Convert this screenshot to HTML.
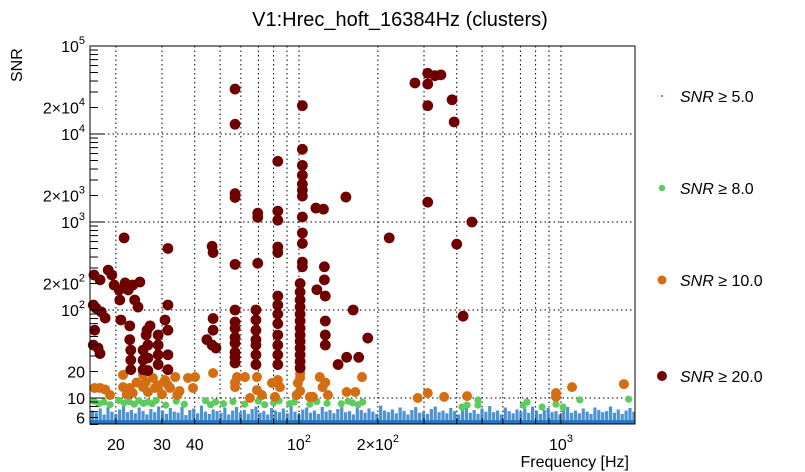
<!DOCTYPE html>
<html><head><meta charset="utf-8"><style>
html,body{margin:0;padding:0;background:#fff;}
svg{display:block;font-family:"Liberation Sans",sans-serif;}
</style></head><body>
<svg id="chart" width="805" height="472" viewBox="0 0 805 472">
<rect x="0" y="0" width="805" height="472" fill="#fff"/>
<text x="400" y="26" text-anchor="middle" font-size="20" fill="#000">V1:Hrec_hoft_16384Hz (clusters)</text>
<text transform="translate(22,82) rotate(-90)" font-size="16" fill="#000">SNR</text>
<text x="629" y="467" text-anchor="end" font-size="16" fill="#000">Frequency [Hz]</text>
<g id="grid"></g>
<g id="marks"></g>
<rect x="90" y="46" width="545" height="378" fill="none" stroke="#000" stroke-width="1"/>
<g id="axes"></g>
<g id="legend"></g>
</svg>
<script>
// ---- data ----
const redF = [57,57,103,277,310,330,348,310,310,384,391,103,57,57,103,103,103,103,83,69.6,69.6,83,83,103,103,103,103,116,124,151,310,457,221,400,46.6,69.6,57,83,83,103,103,125,31.6,21.5,47,423,
16.5,17.4,18.7,19.3,19.7,20.6,21.7,22.3,20.7,23.2,24.7,23.6,24.3,
16.4,16.8,17.6,18.2,16.6,16.4,17.1,17.4,
20.9,22.6,22.6,22.8,22.8,22.8,26.1,25.4,25.4,25.4,26.5,26.5,26.5,26.3,27.0,29.0,29.0,29.0,29.0,30.8,31.6,31.6,31.6,31.6,
44.5,46.6,48.2,47,47,
57,57,57,57,57,57,57,57,
68.5,68.5,68.5,68.5,68.5,68.5,68.5,
83,83,83,83,83,83,83,83,
101,101,101,101,101,101,101,101,101,101,101,101,101,
125,117,126,126,126,126,152,169,161,183,141];
const redS = [32400,12900,21000,38000,49000,46000,47000,37000,21000,24500,13700,6700,2100,1900,4400,3400,2700,2300,4900,1260,1130,1330,1050,1970,1140,750,570,1440,1400,1920,1680,1000,660,560,530,340,330,520,450,350,310,310,500,660,450,85,
250,220,284,250,192,169,203,169,130,192,208,130,108,
114,105,95,81,59,40,37,32,
77,66,46,35,27,21,52,35,27,21,40,28.5,20.5,59,66,52,40,31,24,77,59,114,31,21,
46,40,37,59,80,
100,73,62,49,42,33,29,25,
100,77,59,46,40,31,24,
144,114,90,70,52,40,31,24,
200,160,130,108,90,75,62,52,44,37,31,26,22,
220,170,144,75,52,40,29,29,100,48,24];
const orangeF = [16.6,17.4,19.0,21.3,21.3,22.6,23.2,25.4,25.4,26.5,27.7,28.2,30.8,32.2,33.7,34.3,37.7,40.1,39.4,47,58,57,62.2,65,69.1,69.1,72.2,78.9,84.6,81,99,98,110,113,120,123,129,152,164,174,284,310,358,438,957,957,1102,1738,
18.2,24,26,29,30,35,31.6,22,57,83,101,101,126,101];
const orangeS = [13.0,13.0,10.8,18.3,13.3,13.0,11.4,18.3,13.3,11.7,16.9,13.0,16.0,13.0,17.3,10.8,16.9,17.3,13.0,19.2,17.3,13.3,17.3,10,17.3,12.3,10.8,14.8,13.3,10.3,14.8,10.8,10.3,10.3,17.3,13.3,10.8,11.7,11.7,17.3,10,11.4,10.3,10.5,11.4,10.3,13.3,14.4,
12.5,15,15,14,11,12,14,11,15,16,12,17,15,19];
const greenF = [16.5,17.2,18,19,20.5,21.5,22.5,23.5,24.5,25.5,26.5,27.5,28.5,31,34,36.5,44,46,48,51.5,56,62,70,74,80,84,92,96,110,117,128,145,154,160,168,175,419,438,482,482,718,742,847,957,1018,1180,1812];
const greenS = [9.2,8.6,9.0,8.4,9.4,8.8,9.1,8.5,9.3,8.7,9.0,8.6,9.4,8.3,9.2,8.5,9.3,8.4,9.0,8.6,9.1,8.5,9.2,8.4,8.8,9.3,8.6,9.0,8.5,9.1,8.7,8.6,9.2,8.8,8.4,9.0,7.9,8.3,9.5,8.3,8.3,9.0,7.9,8.5,7.9,9.5,9.7];
const blueS = [7.2,6.8,7.6,6.5,7.9,7.0,6.6,7.4,8.1,6.9,7.3,6.7,7.8,7.1,6.5,7.5,6.9,8.0,7.2,6.6,7.7,7.0,6.8,7.9,6.4,7.3,7.6,6.7,8.2,7.0,6.6,7.4,7.1,6.8,7.8,6.5,7.2,7.9,6.9,7.3,6.6,7.5,8.0,6.8,7.1,6.5,7.7,7.2,6.9,7.6,
6.7,8.1,7.0,6.5,7.4,7.8,6.8,7.2,6.6,7.9,7.0,7.3,6.7,7.5,8.0,6.9,7.1,6.5,7.7,7.3,6.8,7.6,7.0,6.6,8.2,7.2,6.9,7.4,6.7,7.8,7.1,6.5,7.3,7.9,6.8,7.0,6.6,7.5,8.0,6.9,
7.2,6.7,7.7,7.1,6.5,7.4,7.9,6.8,7.3,6.6,7.6,7.0,8.1,6.9,7.2,6.5,7.8,7.1,6.7,7.4,7.0,7.6,6.8,8.0,7.2,6.6,7.3,7.7,6.9,7.1,6.5,7.5,7.9,6.8,7.2,6.7,7.6,7.0,6.6,7.8,7.3,6.9,7.1,8.0,6.8,7.4,6.6,7.2,7.7,7.0];
const blueFMin = 16, blueFMax = 1930;
const xTickVals = [20,30,40,100,200,1000];
const xTickLabels = ["20","30","40","10<tspan dy='-8' font-size='11'>2</tspan>","2×10<tspan dy='-8' font-size='11'>2</tspan>","10<tspan dy='-8' font-size='11'>3</tspan>"];
const yTickVals = [6,10,20,100,200,1000,2000,10000,20000,100000];
const yTickLabels = ["6","10","20","10<tspan dy='-8' font-size='11'>2</tspan>","2×10<tspan dy='-8' font-size='11'>2</tspan>","10<tspan dy='-8' font-size='11'>3</tspan>","2×10<tspan dy='-8' font-size='11'>3</tspan>","10<tspan dy='-8' font-size='11'>4</tspan>","2×10<tspan dy='-8' font-size='11'>4</tspan>","10<tspan dy='-8' font-size='11'>5</tspan>"];
const legendLabels = ["5.0","8.0","10.0","20.0"];

// ---- axes ----
const L=90,R=635,T=46,B=424;
function X(f){return 299+262*Math.log10(f/100);}
function Y(s){return 398-88*(Math.log10(s)-1);}
const NS="http://www.w3.org/2000/svg";
function mk(tag,attrs,parent){const e=document.createElementNS(NS,tag);for(const k in attrs)e.setAttribute(k,attrs[k]);parent.appendChild(e);return e;}
const grid=document.getElementById('grid'),marks=document.getElementById('marks'),axes=document.getElementById('axes'),legend=document.getElementById('legend');

for(let d=10;d<=1000;d*=10){for(let m=1;m<=9;m++){const f=d*m;const x=X(f);if(x<L||x>R)continue;
 if(f>=20){const g=mk('line',{x1:x,y1:T,x2:x,y2:B,stroke:'#000','stroke-width':1,'stroke-dasharray':'1.5,3'},grid);
 }
 const len=(m===1)?11:6;const t=mk('line',{x1:x,y1:B,x2:x,y2:B-len,stroke:'#000'},axes);
 }}
[10,100,1000,10000].forEach(v=>{const g=mk('line',{x1:L,y1:Y(v),x2:R,y2:Y(v),stroke:'#000','stroke-width':1,'stroke-dasharray':'1.5,3'},grid);
 });
for(let d=1;d<=100000;d*=10){for(let m=1;m<=9;m++){const v=d*m;if(v<5||v>105000)continue;const y=Y(v);
 const len=(m===1)?14:8;const t=mk('line',{x1:L,y1:y,x2:L+len,y2:y,stroke:'#000'},axes);
 }}
xTickVals.forEach((v,i)=>{const t=mk('text',{x:X(v),y:450,'text-anchor':'middle','font-size':16},axes);t.innerHTML=xTickLabels[i];
 });
yTickVals.forEach((v,i)=>{const t=mk('text',{x:85,y:Y(v)+6,'text-anchor':'end','font-size':16},axes);t.innerHTML=yTickLabels[i];
 });

const n=blueS.length,lmin=Math.log10(blueFMin),lmax=Math.log10(blueFMax);
for(let i=0;i<n;i++){const f=Math.pow(10,lmin+(lmax-lmin)*(i+0.5)/n);const x=X(f);const y=Y(blueS[i]);
 const r=mk('rect',{x:x-1.6,y:y,width:3.2,height:B-y,fill:'#1f78c8',opacity:0.8},marks);
 }
mk('rect',{x:L,y:Y(5.6),width:R-L,height:B-Y(5.6),fill:'#1f78c8'},marks);
function dots(F,S,r,col,name){for(let i=0;i<F.length;i++){const c=mk('circle',{cx:X(F[i]),cy:Y(S[i]),r:r,fill:col},marks);
 }}
dots(greenF,greenS,3.6,'#5ccc5c','snr8-trigger');
dots(orangeF,orangeS,5,'#d46e12','snr10-trigger');
dots(redF,redS,5.4,'#6e0000','snr20-trigger');

const ly=[96,188,280,376],lc=['#1f78c8','#5ccc5c','#d46e12','#6e0000'],lr=[1,3.2,4.5,5];
legendLabels.forEach((lab,i)=>{const c=mk('circle',{cx:662,cy:ly[i],r:lr[i],fill:lc[i]},legend);
 
 const t=mk('text',{x:680,y:ly[i]+6,'font-size':16},legend);t.innerHTML="<tspan font-style='italic'>SNR</tspan> ≥ "+lab;
 });
</script>
</body></html>
